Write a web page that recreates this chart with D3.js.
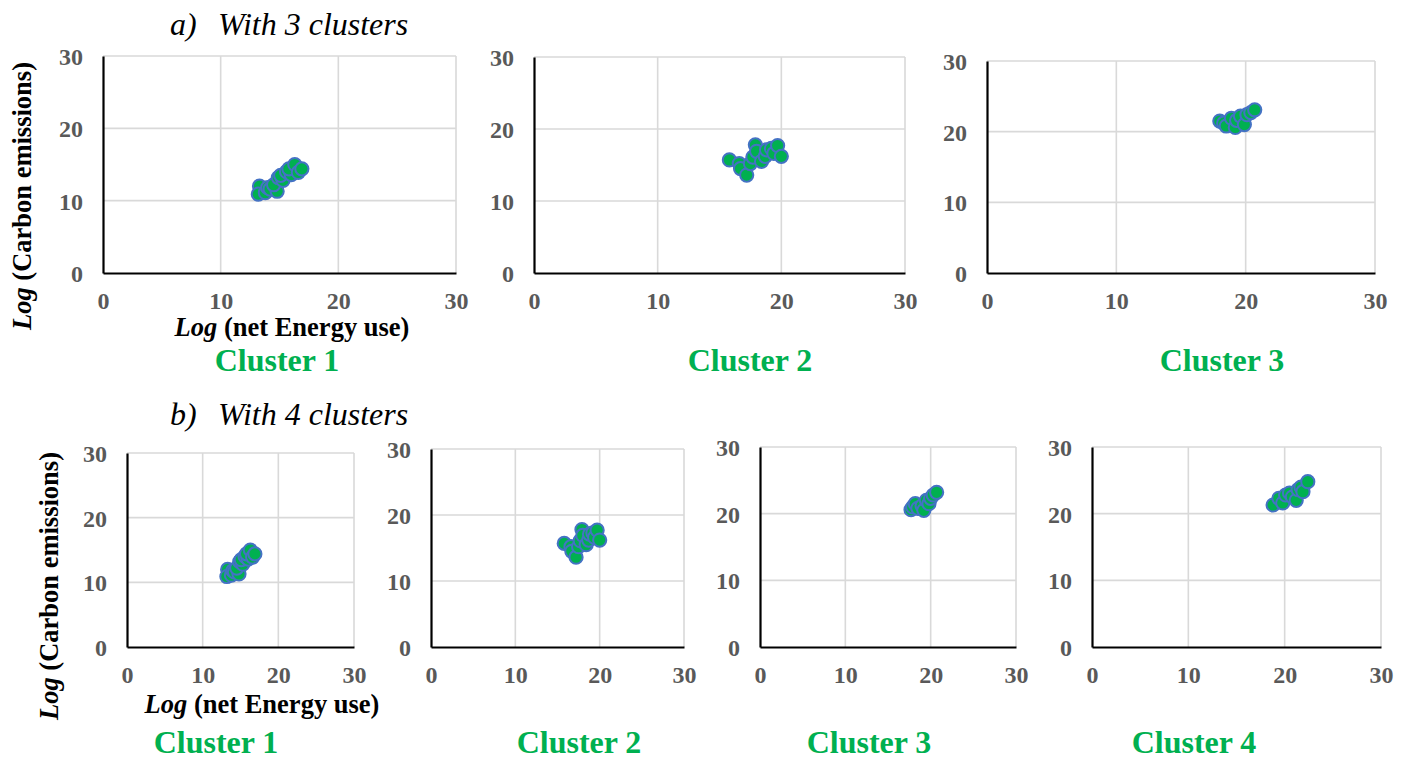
<!DOCTYPE html>
<html>
<head>
<meta charset="utf-8">
<script src="https://cdn.jsdelivr.net/npm/d3@7"></script>
<style>
  html, body { margin: 0; padding: 0; background: #ffffff; }
  svg { display: block; }
  text { font-family: "Liberation Serif", "Times New Roman", serif; }
</style>
</head>
<body>
<svg id="chart" width="1403" height="760"></svg>
<script>
// Log(net energy use) vs Log(carbon emissions), one [x, y] pair per country.
const cluster1 = [
  [13.3, 12.0], [13.2, 10.9], [13.8, 11.1], [14.0, 11.8], [14.2, 11.6],
  [14.8, 11.3], [14.5, 12.2], [14.9, 13.2], [15.3, 12.8], [15.1, 13.5],
  [15.6, 14.0], [16.0, 13.6], [15.8, 14.4], [16.3, 15.0], [16.6, 13.9],
  [16.9, 14.4]
];
const cluster2 = [
  [15.8, 15.7], [16.6, 15.2], [16.7, 14.5], [17.2, 13.6], [17.5, 15.2],
  [17.7, 16.1], [17.9, 17.8], [18.0, 16.9], [18.4, 15.5], [18.7, 16.2],
  [18.8, 17.1], [19.2, 17.3], [19.4, 16.6], [19.7, 17.7], [20.0, 16.2]
];
const cluster3of3 = [
  [18.0, 21.5], [18.3, 21.2], [18.5, 20.8], [18.9, 21.9], [19.2, 20.6],
  [19.3, 21.6], [19.6, 22.2], [19.9, 21.0], [20.1, 22.4], [20.4, 22.7],
  [20.7, 23.1]
];
const cluster3of4 = [
  [17.7, 20.6], [17.9, 21.0], [18.2, 21.5], [18.5, 20.8], [19.0, 21.2],
  [19.2, 20.5], [19.5, 22.0], [19.8, 21.5], [20.0, 22.3], [20.3, 22.8],
  [20.7, 23.2]
];
const cluster4of4 = [
  [18.8, 21.3], [19.4, 22.3], [19.8, 21.6], [20.1, 22.8], [20.5, 23.1],
  [20.8, 22.5], [21.2, 22.0], [21.4, 23.6], [21.7, 24.0], [21.9, 23.3],
  [22.4, 24.8]
];

const tickValues = [0, 10, 20, 30];
const axisDomain = [0, 30];
const clusterNames = ["Cluster 1", "Cluster 2", "Cluster 3", "Cluster 4"];
const rowTitles = [["a)", "With 3 clusters"], ["b)", "With 4 clusters"]];
const xTitle = "(net Energy use)";
const yTitle = "(Carbon emissions)";

// Plot-area boxes [left, top, right, bottom] and label centres for each panel.
const panels = [
  { data: cluster1,    name: clusterNames[0], box: [103, 56, 456, 273], nameX: 277, nameY: 371 },
  { data: cluster2,    name: clusterNames[1], box: [534, 57, 905, 273], nameX: 750, nameY: 371 },
  { data: cluster3of3, name: clusterNames[2], box: [987, 61, 1375, 273], nameX: 1222, nameY: 371 },
  { data: cluster1,    name: clusterNames[0], box: [127, 453, 354, 647], nameX: 216, nameY: 753 },
  { data: cluster2,    name: clusterNames[1], box: [431, 449, 684, 647], nameX: 579, nameY: 753 },
  { data: cluster3of4, name: clusterNames[2], box: [760, 447, 1016, 647], nameX: 869, nameY: 753 },
  { data: cluster4of4, name: clusterNames[3], box: [1092, 447, 1381, 647], nameX: 1194, nameY: 753 }
];

const svg = d3.select("#chart");
const GRID = "#d9d9d9";
const TICK = "#595959";
const GREEN = "#00b050";
const BLUE = "#4472c4";

panels.forEach(p => {
  const [x0, y0, x1, y1] = p.box;
  const x = d3.scaleLinear().domain(axisDomain).range([x0, x1]);
  const y = d3.scaleLinear().domain(axisDomain).range([y1, y0]);
  const g = svg.append("g");

  // gridlines
  g.append("g").selectAll("line").data(tickValues.filter(v => v > 0)).join("line")
    .attr("x1", d => x(d)).attr("x2", d => x(d))
    .attr("y1", y0).attr("y2", y1)
    .attr("stroke", GRID).attr("stroke-width", 1.6);
  g.append("g").selectAll("line").data(tickValues.filter(v => v > 0)).join("line")
    .attr("x1", x0).attr("x2", x1)
    .attr("y1", d => y(d)).attr("y2", d => y(d))
    .attr("stroke", GRID).attr("stroke-width", 1.6);

  // axes
  const ax = g.append("g").attr("transform", `translate(0,${y1})`)
    .call(d3.axisBottom(x).tickValues(tickValues).tickSize(0).tickSizeOuter(0));
  const ay = g.append("g").attr("transform", `translate(${x0},0)`)
    .call(d3.axisLeft(y).tickValues(tickValues).tickSize(0).tickSizeOuter(0));
  [ax, ay].forEach(a => {
    a.select(".domain").attr("stroke", "#000").attr("stroke-width", 2.2);
    a.selectAll("text")
      .attr("fill", TICK)
      .attr("font-family", '"Liberation Serif", "Times New Roman", serif')
      .attr("font-weight", "bold")
      .attr("font-size", 24);
  });
  ax.selectAll("text").attr("y", 28).attr("dy", "0.35em");
  ay.selectAll("text").attr("x", -20).attr("dy", "0.35em");

  // points
  g.append("g").selectAll("circle").data(p.data).join("circle")
    .attr("cx", d => x(d[0])).attr("cy", d => y(d[1]))
    .attr("r", 6.6)
    .attr("fill", GREEN).attr("stroke", BLUE).attr("stroke-width", 2);

  // cluster name
  svg.append("text")
    .attr("x", p.nameX).attr("y", p.nameY)
    .attr("text-anchor", "middle")
    .attr("font-size", 32).attr("font-weight", "bold")
    .attr("fill", GREEN)
    .text(p.name);
});

// row titles
[[170, 218, 35], [170, 218, 425]].forEach((pos, i) => {
  const t = svg.append("text").attr("y", pos[2])
    .attr("font-size", 32).attr("font-style", "italic").attr("fill", "#000");
  t.append("tspan").attr("x", pos[0]).text(rowTitles[i][0]);
  t.append("tspan").attr("x", pos[1]).text(rowTitles[i][1]);
});

// axis titles for the first panel of each row
function axisTitle(x, y, rotate, rest) {
  const t = svg.append("text")
    .attr("transform", `translate(${x},${y})` + (rotate ? " rotate(-90)" : ""))
    .attr("text-anchor", "middle")
    .attr("font-size", 26.5).attr("font-weight", "bold").attr("fill", "#000");
  t.append("tspan").attr("font-style", "italic").text("Log");
  t.append("tspan").text(" " + rest);
}
axisTitle(292, 336, false, xTitle);
axisTitle(31, 196, true, yTitle);
axisTitle(262, 713, false, xTitle);
axisTitle(58, 586, true, yTitle);
</script>
</body>
</html>
